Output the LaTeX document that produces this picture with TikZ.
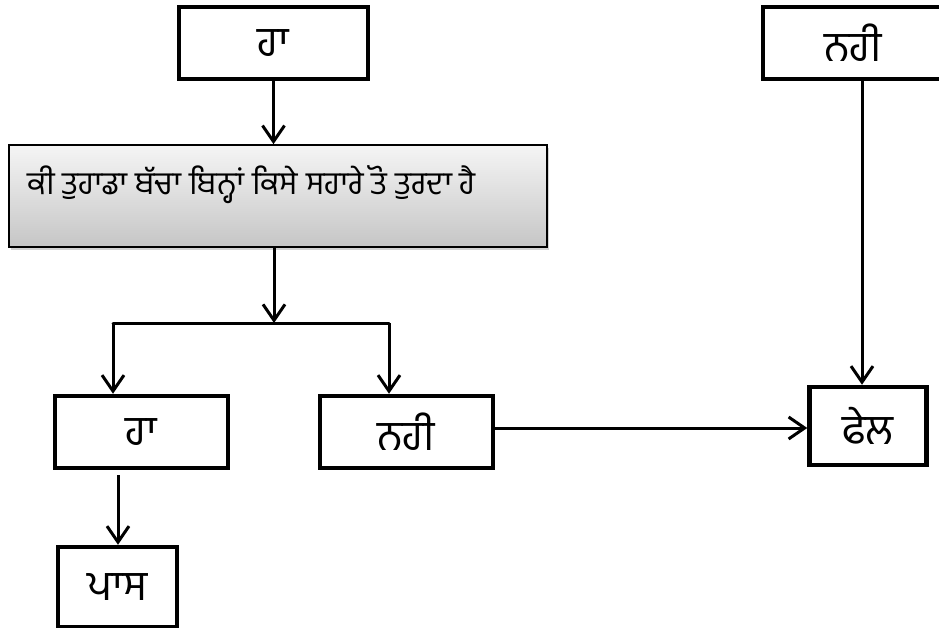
\documentclass[tikz,border=0pt]{standalone}
\usepackage{fontspec}
\newfontfamily\gur[Script=Gurmukhi]{Hind Jalandhar}
\usetikzlibrary{arrows.meta,shadows}
\begin{document}
\begin{tikzpicture}[x=1pt,y=-1pt,
  box/.style={draw=black,line width=4.5pt,fill=white,inner sep=0pt,font=\gur\fontsize{42}{46}\selectfont},
  qbox/.style={draw=black,line width=1.6pt,inner sep=0pt,top color=gray!8,bottom color=gray!45,
     drop shadow={shadow xshift=2pt,shadow yshift=-3pt,opacity=0.35}},
  arr/.style={line width=3pt,-{Straight Barb[length=16pt,width=22pt]}},
  ln/.style={line width=3pt}]
\useasboundingbox (0,0) rectangle (939,628);
\begin{scope}
\clip (0,0) rectangle (939,628);
\node[box,minimum width=189pt,minimum height=72pt] (ha1) at (273.5,43) {ਹਾ};
\node[box,minimum width=180pt,minimum height=72pt] (nahi1) at (853,43) {ਨਹੀ};
\end{scope}
\node[qbox,minimum width=538pt,minimum height=102pt] (q) at (278,196) {};
\node[anchor=west,inner sep=0pt,font=\gur\fontsize{32}{36}\selectfont] (qt) at (27,185) {ਕੀ ਤੁਹਾਡਾ ਬੱਚਾ ਬਿਨ੍ਹਾਂ ਕਿਸੇ ਸਹਾਰੇ ਤੋ ਤੁਰਦਾ ਹੈ};
\node[box,minimum width=173pt,minimum height=72pt] (ha2) at (141.5,432) {ਹਾ};
\node[box,minimum width=173pt,minimum height=72pt] (nahi2) at (406.5,432) {ਨਹੀ};
\node[box,minimum width=117pt,minimum height=78pt] (fail) at (868,426) {ਫੇਲ};
\node[box,minimum width=119pt,minimum height=80pt] (pass) at (117.5,587) {ਪਾਸ};
\coordinate (j) at (274,323);
\coordinate (jl) at (113,323);
\coordinate (jr) at (389,323);
\coordinate (p0) at (118,475);
\coordinate (f0) at (862,79);
\coordinate (h0) at (493,428);
\draw[arr] (ha1.south) -- (ha1.south |- q.north);
\draw[arr] (q.south -| j) -- (j);
\draw[ln,line cap=round] (jl) -- (jr);
\draw[arr] (jl) -- (jl |- ha2.north);
\draw[arr] (jr) -- (jr |- nahi2.north);
\draw[arr] (p0) -- (p0 |- pass.north);
\draw[arr] (h0) -- (h0 -| fail.west);
\draw[arr] (f0) -- (f0 |- fail.north);
\end{tikzpicture}
\end{document}
